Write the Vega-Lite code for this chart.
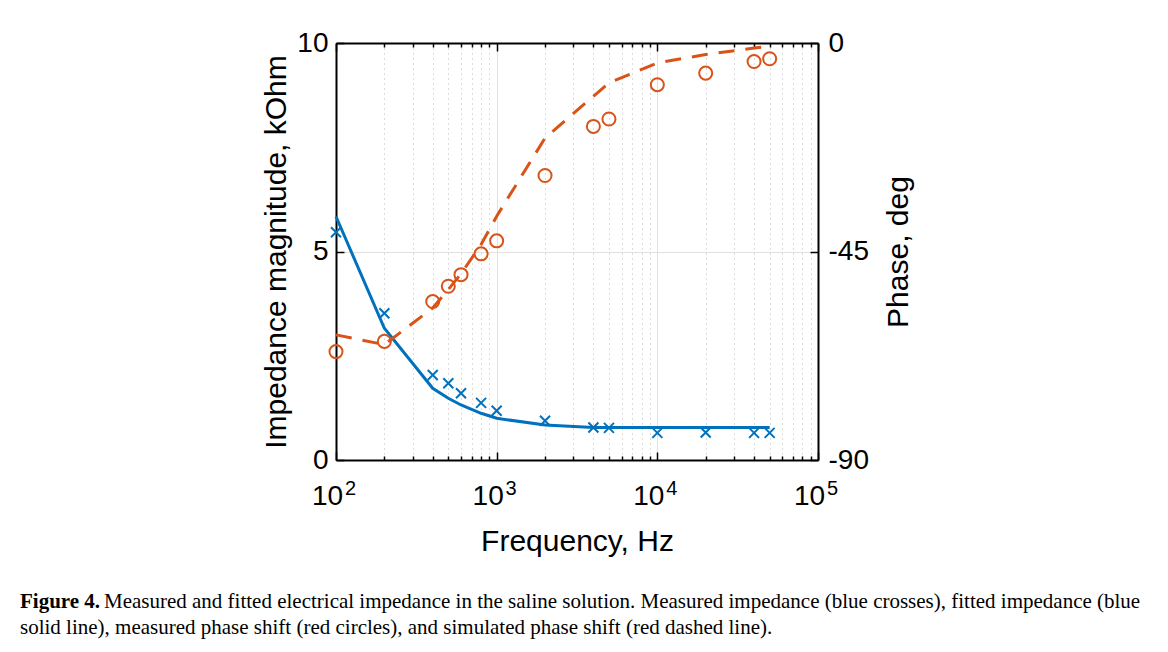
{
  "$schema": "https://vega.github.io/schema/vega-lite/v6.json",
  "width": 482,
  "height": 417,
  "autosize": {"type": "none"},
  "padding": {"left": 336, "top": 43, "right": 350, "bottom": 192},
  "background": "white",
  "config": {
    "view": {"stroke": null},
    "font": "Liberation Sans",
    "axis": {"labelColor": "black", "titleColor": "black", "titleFontWeight": "normal", "labelFont": "Liberation Sans", "titleFont": "Liberation Sans"}
  },
  "title": {
    "text": "Figure 4.",
    "subtitle": ["\u200b\u00a0\u00a0\u00a0\u00a0\u00a0\u00a0\u00a0\u00a0\u00a0\u00a0\u00a0\u00a0\u00a0\u00a0\u00a0\u00a0Measured and fitted electrical impedance in the saline solution. Measured impedance (blue crosses), fitted impedance (blue", "solid line), measured phase shift (red circles), and simulated phase shift (red dashed line)."],
    "orient": "bottom",
    "anchor": "start",
    "frame": "group",
    "dx": -316,
    "offset": 35,
    "font": "Liberation Serif",
    "fontSize": 21,
    "fontWeight": "bold",
    "color": "black",
    "subtitleFont": "Liberation Serif",
    "subtitleFontSize": 21,
    "subtitleColor": "black",
    "subtitlePadding": -21,
    "subtitleLineHeight": 26
  },
  "data": {
    "values": [
      {"f": 100, "z_meas": 5.46, "z_fit": 5.84, "ph_meas": -66.6, "ph_sim": -63.0},
      {"f": 200, "z_meas": 3.52, "z_fit": 3.16, "ph_meas": -64.4, "ph_sim": -65.1},
      {"f": 400, "z_meas": 2.04, "z_fit": 1.72, "ph_meas": -55.8, "ph_sim": -57.2},
      {"f": 500, "z_meas": 1.84, "z_fit": 1.48, "ph_meas": -52.5, "ph_sim": -53.2},
      {"f": 600, "z_meas": 1.60, "z_fit": 1.32, "ph_meas": -50.0, "ph_sim": -49.8},
      {"f": 800, "z_meas": 1.37, "z_fit": 1.12, "ph_meas": -45.5, "ph_sim": -43.5},
      {"f": 1000, "z_meas": 1.18, "z_fit": 1.0, "ph_meas": -42.7, "ph_sim": -37.4},
      {"f": 2000, "z_meas": 0.94, "z_fit": 0.84, "ph_meas": -28.6, "ph_sim": -20.5},
      {"f": 4000, "z_meas": 0.78, "z_fit": 0.78, "ph_meas": -18.0, "ph_sim": -11.5},
      {"f": 5000, "z_meas": 0.77, "z_fit": 0.78, "ph_meas": -16.4, "ph_sim": -8.6},
      {"f": 10000, "z_meas": 0.65, "z_fit": 0.78, "ph_meas": -9.0, "ph_sim": -4.3},
      {"f": 20000, "z_meas": 0.66, "z_fit": 0.78, "ph_meas": -6.5, "ph_sim": -2.5},
      {"f": 40000, "z_meas": 0.65, "z_fit": 0.78, "ph_meas": -4.0, "ph_sim": -1.1},
      {"f": 50000, "z_meas": 0.65, "z_fit": 0.78, "ph_meas": -3.4, "ph_sim": -0.7}
    ]
  },
  "layer": [
    {
      "mark": {"type": "line", "color": "#0072BD", "strokeWidth": 3},
      "encoding": {
        "x": {
          "field": "f", "type": "quantitative",
          "scale": {"type": "log", "domain": [100, 100000], "nice": false},
          "axis": {
            "orient": "bottom",
            "values": [100, 200, 300, 400, 500, 600, 700, 800, 900, 1000, 2000, 3000, 4000, 5000, 6000, 7000, 8000, 9000, 10000, 20000, 30000, 40000, 50000, 60000, 70000, 80000, 90000, 100000],
            "labelExpr": "(datum.value == 100 || datum.value == 1000 || datum.value == 10000 || datum.value == 100000) ? '10' : ''",
            "labelFontSize": 28,
            "labelOffset": -9,
            "labelPadding": 30,
            "labelFlush": false,
            "labelOverlap": false,
            "tickSize": {"condition": {"test": "datum.value == 100 || datum.value == 1000 || datum.value == 10000 || datum.value == 100000", "value": -8}, "value": -4},
            "tickColor": "black",
            "tickWidth": 1.5,
            "grid": true,
            "gridColor": {"condition": {"test": "datum.value == 100 || datum.value == 1000 || datum.value == 10000 || datum.value == 100000", "value": "#e0e0e0"}, "value": "#b8b8b8"},
            "gridDash": {"condition": {"test": "datum.value == 100 || datum.value == 1000 || datum.value == 10000 || datum.value == 100000", "value": []}, "value": [1, 4]},
            "gridWidth": 1,
            "domainColor": "black",
            "domainWidth": 2,
            "title": "Frequency, Hz",
            "titleFontSize": 30,
            "titlePadding": 12
          }
        },
        "y": {
          "field": "z_fit", "type": "quantitative",
          "scale": {"domain": [0, 10], "nice": false},
          "axis": {
            "orient": "left",
            "values": [0, 5, 10],
            "labelFontSize": 28,
            "labelPadding": 16,
            "labelFlush": false,
            "tickSize": -8,
            "tickColor": "black",
            "tickWidth": 1.5,
            "grid": true,
            "gridColor": "#e0e0e0",
            "domainColor": "black",
            "domainWidth": 2,
            "title": "Impedance magnitude, kOhm",
            "titleFontSize": 30,
            "titlePadding": 5
          }
        }
      }
    },
    {
      "mark": {"type": "point", "shape": "M-1,-1L1,1M-1,1L1,-1", "filled": false, "color": "#0072BD", "strokeWidth": 2, "size": 100, "opacity": 1},
      "encoding": {
        "x": {
          "field": "f", "type": "quantitative",
          "scale": {"type": "log", "domain": [100, 100000], "nice": false},
          "axis": {
            "orient": "top",
            "values": [100, 200, 300, 400, 500, 600, 700, 800, 900, 1000, 2000, 3000, 4000, 5000, 6000, 7000, 8000, 9000, 10000, 20000, 30000, 40000, 50000, 60000, 70000, 80000, 90000, 100000],
            "labels": false,
            "tickSize": {"condition": {"test": "datum.value == 100 || datum.value == 1000 || datum.value == 10000 || datum.value == 100000", "value": -8}, "value": -4},
            "tickColor": "black",
            "tickWidth": 1.5,
            "grid": false,
            "domainColor": "black",
            "domainWidth": 2,
            "title": null
          }
        },
        "y": {
          "field": "z_meas", "type": "quantitative",
          "scale": {"domain": [0, 10], "nice": false},
          "axis": null
        }
      }
    },
    {
      "mark": {"type": "line", "color": "#D95319", "strokeWidth": 3, "strokeDash": [16, 11]},
      "encoding": {
        "x": {
          "field": "f", "type": "quantitative",
          "scale": {"type": "log", "domain": [100, 100000], "nice": false},
          "axis": {
            "orient": "bottom",
            "values": [100, 1000, 10000, 100000],
            "labelExpr": "datum.value == 100 ? '2' : datum.value == 1000 ? '3' : datum.value == 10000 ? '4' : '5'",
            "labelFontSize": 20,
            "labelOffset": 14,
            "labelPadding": 18,
            "labelFlush": false,
            "labelOverlap": false,
            "ticks": false,
            "domain": false,
            "grid": false,
            "title": null
          }
        },
        "y": {
          "field": "ph_sim", "type": "quantitative",
          "scale": {"domain": [-90, 0], "nice": false},
          "axis": {
            "orient": "right",
            "values": [-90, -45, 0],
            "labelExpr": "datum.value == 0 ? '0' : datum.value == -45 ? '-45' : '-90'",
            "labelFontSize": 28,
            "labelPadding": 18,
            "labelFlush": false,
            "tickSize": -8,
            "tickColor": "black",
            "tickWidth": 1.5,
            "grid": false,
            "domainColor": "black",
            "domainWidth": 2,
            "title": "Phase, deg",
            "titleFontSize": 30,
            "titleAngle": 270,
            "titleBaseline": "top",
            "titlePadding": 15
          }
        }
      }
    },
    {
      "mark": {"type": "point", "shape": "circle", "filled": false, "color": "#D95319", "strokeWidth": 2, "size": 170, "opacity": 1},
      "encoding": {
        "x": {
          "field": "f", "type": "quantitative",
          "scale": {"type": "log", "domain": [100, 100000], "nice": false},
          "axis": null
        },
        "y": {
          "field": "ph_meas", "type": "quantitative",
          "scale": {"domain": [-90, 0], "nice": false},
          "axis": null
        }
      }
    }
  ],
  "resolve": {"scale": {"y": "independent"}, "axis": {"x": "independent"}}
}
